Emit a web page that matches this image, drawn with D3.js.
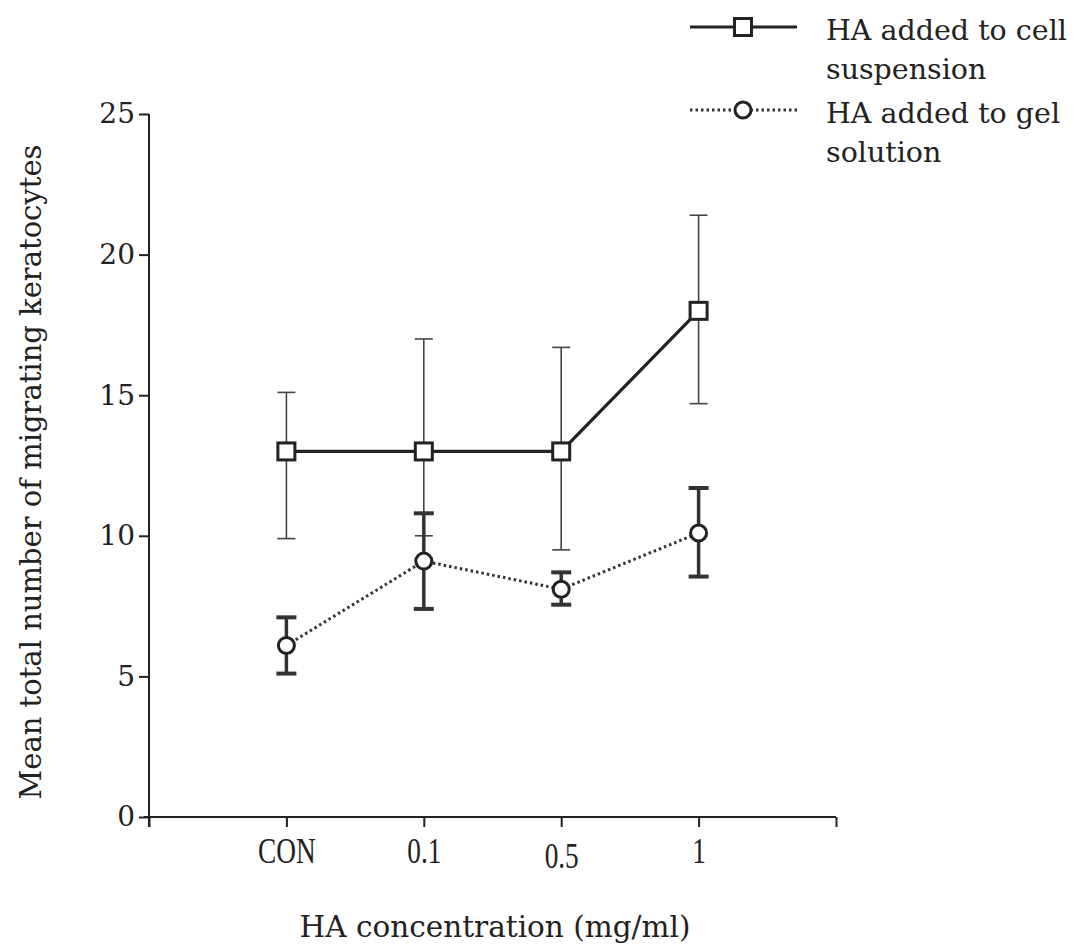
<!DOCTYPE html>
<html>
<head>
<meta charset="utf-8">
<script src="https://cdn.jsdelivr.net/npm/d3@7"></script>
<style>
  html, body { margin: 0; padding: 0; background: #fff; }
  svg { display: block; }
</style>
</head>
<body>
<script>
// ---- data ----
const categories = ["CON", "0.1", "0.5", "1"];
const cellMean  = [13, 13, 13, 18];
const cellUpper = [15.1, 17.0, 16.7, 21.4];
const cellLower = [9.9, 10.0, 9.5, 14.7];
const gelMean   = [6.1, 9.1, 8.1, 10.1];
const gelUpper  = [7.1, 10.8, 8.7, 11.7];
const gelLower  = [5.1, 7.4, 7.55, 8.55];
const yTicks = [0, 5, 10, 15, 20, 25];
const legendLabels = [["HA added to cell", "suspension"], ["HA added to gel", "solution"]];
const xTitle = "HA concentration (mg/ml)";
const yTitle = "Mean total number of migrating keratocytes";

const W = 1088, H = 950;
const svg = d3.select("body").append("svg").attr("width", W).attr("height", H);

const x = d3.scaleLinear().domain([0, categories.length + 1]).range([149, 836]);
const y = d3.scaleLinear().domain([0, 25]).range([817, 114]);

const titleFont = "'DejaVu Serif', serif";
const tickFont = "'Liberation Serif', serif";

// y axis
const yAxis = svg.append("g").attr("transform", `translate(${x(0)},0)`)
  .call(d3.axisLeft(y).tickValues(yTicks).tickSize(10).tickPadding(4).tickFormat(d3.format("d")));
yAxis.select(".domain").remove();
yAxis.append("line").attr("x1", 0).attr("x2", 0).attr("y1", y(25)).attr("y2", y(0) + 10)
  .attr("stroke", "#222").attr("stroke-width", 2);
yAxis.selectAll(".tick line").attr("stroke", "#222").attr("stroke-width", 2);
yAxis.selectAll(".tick text").attr("font-family", titleFont).attr("font-size", 28).attr("fill", "#222");

// x axis
const xAxis = svg.append("g").attr("transform", `translate(0,${y(0)})`)
  .call(d3.axisBottom(x).tickValues(d3.range(0, categories.length + 2)).tickSize(10).tickPadding(14)
    .tickFormat(i => (i >= 1 && i <= categories.length) ? categories[i - 1] : ""));
xAxis.select(".domain").remove();
xAxis.append("line").attr("x1", x(0) - 5).attr("x2", x(categories.length + 1)).attr("y1", 0).attr("y2", 0)
  .attr("stroke", "#222").attr("stroke-width", 2);
xAxis.selectAll(".tick line").attr("stroke", "#222").attr("stroke-width", 2);
xAxis.selectAll(".tick text").attr("font-family", tickFont).attr("font-size", 35).attr("fill", "#222")
  .attr("transform", "scale(0.78,1)")
  .attr("x", function () { return 0; })
  .attr("dy", (d, i) => i === 3 ? "0.78em" : "0.62em");
// position horizontally after scaling: move each tick group's text by compensating scale
xAxis.selectAll(".tick").each(function () {
  const t = d3.select(this).select("text");
  t.attr("transform", "scale(0.78,1)");
});

// titles
svg.append("text").attr("x", 495).attr("y", 937).attr("text-anchor", "middle")
  .attr("font-family", titleFont).attr("font-size", 29.5).attr("fill", "#222").text(xTitle);
svg.append("text").attr("transform", `translate(41,472) rotate(-90)`).attr("text-anchor", "middle")
  .attr("font-family", titleFont).attr("font-size", 29).attr("fill", "#222").text(yTitle);

const idx = categories.map((c, i) => i + 1);
const capW = 9;

// error bars: cell (thin)
const cellG = svg.append("g");
idx.forEach((k, i) => {
  const cx = x(k);
  cellG.append("line").attr("x1", cx).attr("x2", cx).attr("y1", y(cellUpper[i])).attr("y2", y(cellLower[i]))
    .attr("stroke", "#444").attr("stroke-width", 1.6);
  [cellUpper[i], cellLower[i]].forEach(v => cellG.append("line")
    .attr("x1", cx - capW).attr("x2", cx + capW).attr("y1", y(v)).attr("y2", y(v))
    .attr("stroke", "#444").attr("stroke-width", 1.6));
});

// error bars: gel (thick)
const gelG = svg.append("g");
idx.forEach((k, i) => {
  const cx = x(k);
  gelG.append("line").attr("x1", cx).attr("x2", cx).attr("y1", y(gelUpper[i])).attr("y2", y(gelLower[i]))
    .attr("stroke", "#333").attr("stroke-width", 3.5);
  [gelUpper[i], gelLower[i]].forEach(v => gelG.append("line")
    .attr("x1", cx - 10).attr("x2", cx + 10).attr("y1", y(v)).attr("y2", y(v))
    .attr("stroke", "#333").attr("stroke-width", 4));
});

// lines
const line = d3.line().x(d => x(d[0])).y(d => y(d[1]));
svg.append("path").datum(idx.map((k, i) => [k, cellMean[i]])).attr("d", line)
  .attr("fill", "none").attr("stroke", "#222").attr("stroke-width", 3.2);
svg.append("path").datum(idx.map((k, i) => [k, gelMean[i]])).attr("d", line)
  .attr("fill", "none").attr("stroke", "#333").attr("stroke-width", 3)
  .attr("stroke-dasharray", "2.5 3");

// markers
svg.append("g").selectAll("rect").data(idx).join("rect")
  .attr("x", (k) => x(k) - 8.5).attr("y", (k, i) => y(cellMean[i]) - 8.5)
  .attr("width", 17).attr("height", 17).attr("fill", "#fff")
  .attr("stroke", "#222").attr("stroke-width", 3);
svg.append("g").selectAll("circle").data(idx).join("circle")
  .attr("cx", k => x(k)).attr("cy", (k, i) => y(gelMean[i])).attr("r", 8)
  .attr("fill", "#fff").attr("stroke", "#222").attr("stroke-width", 3);

// legend
const leg = svg.append("g");
const legY = [27, 110];
leg.append("line").attr("x1", 690).attr("x2", 797).attr("y1", legY[0]).attr("y2", legY[0])
  .attr("stroke", "#222").attr("stroke-width", 3.2);
leg.append("rect").attr("x", 743 - 8.5).attr("y", legY[0] - 8.5).attr("width", 17).attr("height", 17)
  .attr("fill", "#fff").attr("stroke", "#222").attr("stroke-width", 3);
leg.append("line").attr("x1", 690).attr("x2", 797).attr("y1", legY[1]).attr("y2", legY[1])
  .attr("stroke", "#333").attr("stroke-width", 3).attr("stroke-dasharray", "2.5 3");
leg.append("circle").attr("cx", 743).attr("cy", legY[1]).attr("r", 8)
  .attr("fill", "#fff").attr("stroke", "#222").attr("stroke-width", 3);
legendLabels.forEach((lines, j) => {
  lines.forEach((t, m) => {
    leg.append("text").attr("x", 826).attr("y", legY[j] + 13 + m * 39)
      .attr("font-family", titleFont).attr("font-size", 28.5).attr("fill", "#222").text(t);
  });
});
</script>
</body>
</html>
